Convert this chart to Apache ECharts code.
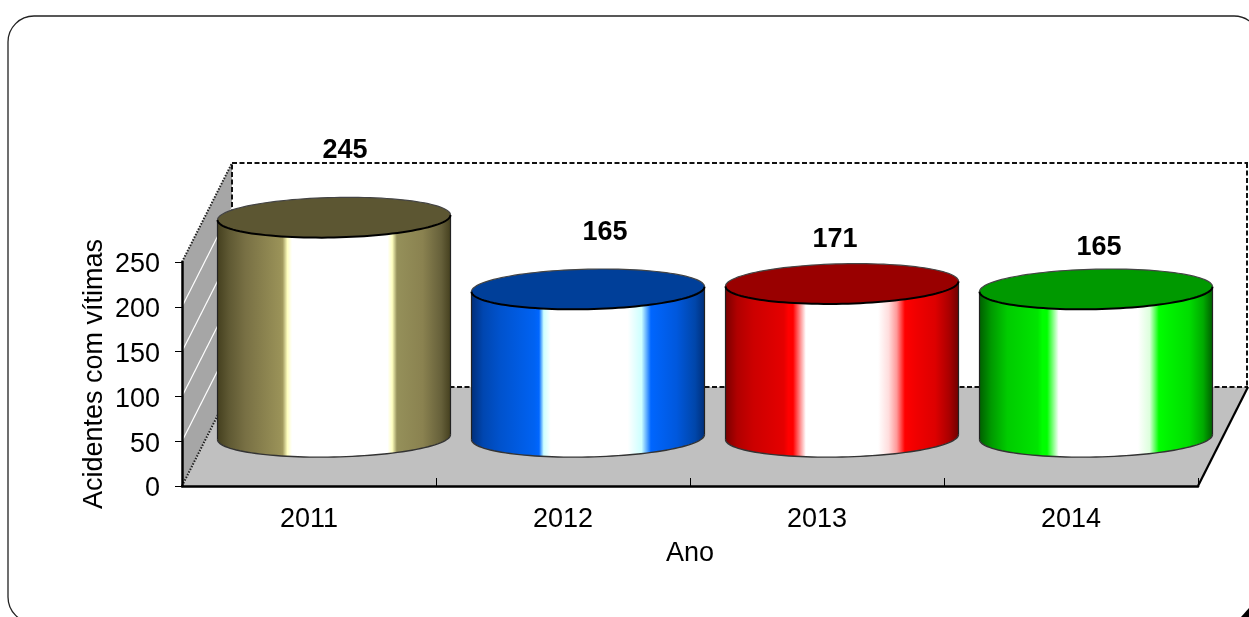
<!DOCTYPE html>
<html>
<head>
<meta charset="utf-8">
<style>html,body{margin:0;padding:0;background:#fff}#c{width:1249px;height:617px}</style>
<script src="https://cdn.jsdelivr.net/npm/echarts@6/dist/echarts.min.js"></script>
</head>
<body>
<div id="c"></div>
<script>
var categories = ['2011', '2012', '2013', '2014'];
var accidents = [245, 165, 171, 165];
var xTitle = 'Ano';
var yTitle = 'Acidentes com vítimas';
var yTicks = [50, 100, 150, 200, 250];

// styling only
var labelNudge = [[11, -47], [17, -37], [-7, -24], [3, -22]];
var topColors = ['#5c5632', '#003f99', '#990000', '#009900'];
var sideStops = [
  [[0,'#45401f'],[0.05,'#5f5933'],[0.12,'#787044'],[0.27,'#9a9258'],[0.28,'#a29a5e'],[0.30,'#ffffc0'],[0.32,'#ffffff'],[0.73,'#ffffff'],[0.75,'#ffffc0'],[0.77,'#95905a'],[0.88,'#8a8250'],[0.96,'#66603a'],[1,'#45401f']],
  [[0,'#002f7a'],[0.05,'#0046b0'],[0.12,'#0052cc'],[0.27,'#0062f2'],[0.29,'#0066ff'],[0.31,'#ccffff'],[0.34,'#ffffff'],[0.67,'#ffffff'],[0.73,'#ccffff'],[0.77,'#0066ff'],[0.88,'#0058dd'],[0.96,'#0046aa'],[1,'#002f7a']],
  [[0,'#7a0000'],[0.05,'#b00000'],[0.12,'#cc0000'],[0.25,'#e50000'],[0.27,'#ff0000'],[0.29,'#ff0000'],[0.345,'#ffffff'],[0.655,'#ffffff'],[0.70,'#ffdddd'],[0.735,'#ff9999'],[0.77,'#ff0000'],[0.82,'#f00000'],[0.90,'#dd0000'],[0.96,'#aa0000'],[1,'#700000']],
  [[0,'#006000'],[0.05,'#009900'],[0.12,'#00cc00'],[0.25,'#00e500'],[0.27,'#00ff00'],[0.29,'#00ff00'],[0.34,'#ffffff'],[0.68,'#ffffff'],[0.73,'#ddffdd'],[0.77,'#00ff00'],[0.82,'#00f000'],[0.90,'#00dd00'],[0.96,'#00aa00'],[1,'#006000']]
];
var FONT = '"Liberation Sans", Arial, sans-serif';
var DEPTH_X = 50, DEPTH_Y = -99;         // oblique projection of the box depth
var CYL_DX = 25, CYL_DY = -49, CYL_RX = 116.5, CYL_RY = 20, TILT = 2.5;

function arc(cx, cy, from, to) {
  var pts = [], n = 60;
  for (var i = 0; i <= n; i++) {
    var t = from + (to - from) * i / n;
    pts.push([cx + CYL_RX * Math.cos(t), cy + CYL_RY * Math.sin(t) - TILT * Math.cos(t)]);
  }
  return pts;
}

function renderBox(params, api) {
  var cs = params.coordSys;
  var L = cs.x, R = cs.x + cs.width, B = cs.y + cs.height, T = cs.y;
  var dx = DEPTH_X, dy = DEPTH_Y;
  var dash = {stroke:'#111', lineWidth:2, lineDash:[5,2.5]};
  var dots = {stroke:'#222', lineWidth:2, lineDash:[1.5,1.5]};
  var kids = [];
  kids.push({type:'polygon', shape:{points:[[L,B],[L,T],[L+dx,T+dy],[L+dx,B+dy]]}, style:{fill:'#a6a6a6', stroke:null}});
  kids.push({type:'polygon', shape:{points:[[L,B],[R,B],[R+dx,B+dy],[L+dx,B+dy]]}, style:{fill:'#c0c0c0', stroke:null}});
  yTicks.forEach(function (v) {
    if (v === 250) return;
    var y = api.coord([0, v])[1];
    kids.push({type:'line', shape:{x1:L, y1:y, x2:L+dx, y2:y+dy}, style:{stroke:'#ffffff', lineWidth:1.2}});
  });
  kids.push({type:'line', shape:{x1:L, y1:T, x2:L+dx, y2:T+dy}, style:dots});
  kids.push({type:'line', shape:{x1:L, y1:B, x2:L+dx, y2:B+dy}, style:dots});
  kids.push({type:'line', shape:{x1:L+dx, y1:B+dy, x2:L+dx, y2:T+dy}, style:dash});
  kids.push({type:'line', shape:{x1:L+dx, y1:T+dy, x2:R+dx, y2:T+dy}, style:dash});
  kids.push({type:'line', shape:{x1:R+dx-1, y1:T+dy, x2:R+dx-1, y2:B+dy}, style:dash});
  kids.push({type:'line', shape:{x1:L+dx, y1:B+dy, x2:R+dx, y2:B+dy}, style:dash});
  kids.push({type:'line', shape:{x1:R, y1:B, x2:R+dx, y2:B+dy}, style:{stroke:'#000', lineWidth:2.2}});
  return {type:'group', children:kids};
}

function renderCyl(params, api) {
  var i = params.dataIndex;
  var v = api.value(1);
  var base = api.coord([api.value(0), 0]);
  var top = api.coord([api.value(0), v]);
  var cx = base[0] + CYL_DX, by = base[1] + CYL_DY, ty = top[1] + CYL_DY;
  var side = [].concat(arc(cx, by, Math.PI, 0)).concat(arc(cx, ty, 0, Math.PI));
  var grad = {type:'linear', x:0, y:0, x2:1, y2:0, colorStops: sideStops[i].map(function (s) { return {offset:s[0], color:s[1]}; })};
  var left = arc(cx, by, Math.PI, Math.PI)[0], right = arc(cx, by, 0, 0)[0];
  var tl = arc(cx, ty, Math.PI, Math.PI)[0], tr = arc(cx, ty, 0, 0)[0];
  return {type:'group', children:[
    {type:'polygon', shape:{points:side}, style:{fill:grad, stroke:null}},
    {type:'polyline', shape:{points:arc(cx, by, Math.PI, 0)}, style:{fill:'none', stroke:'#333', lineWidth:1.4}},
    {type:'line', shape:{x1:left[0], y1:left[1], x2:tl[0], y2:tl[1]}, style:{stroke:'#222', lineWidth:1.2}},
    {type:'line', shape:{x1:right[0], y1:right[1], x2:tr[0], y2:tr[1]}, style:{stroke:'#222', lineWidth:1.2}},
    {type:'polygon', shape:{points:arc(cx, ty, 0, 2 * Math.PI)}, style:{fill:topColors[i], stroke:null}},
    {type:'polyline', shape:{points:arc(cx, ty, Math.PI, 2 * Math.PI)}, style:{fill:'none', stroke:'#444', lineWidth:1.2}},
    {type:'polyline', shape:{points:arc(cx, ty, Math.PI, 0)}, style:{fill:'none', stroke:'#000', lineWidth:2}},
    {type:'text', x:cx + labelNudge[i][0], y:ty - CYL_RY + labelNudge[i][1], style:{text:String(accidents[i]), font:'bold 27px ' + FONT, fill:'#000', align:'center', verticalAlign:'middle'}}
  ]};
}

var chart = echarts.init(document.getElementById('c'), null, {renderer:'canvas', width:1249, height:617});
chart.setOption({
  animation:false,
  backgroundColor:'#fff',
  graphic:[
    {type:'rect', z:-10, silent:true, shape:{x:8, y:16, width:1252, height:607, r:26}, style:{fill:'#fff', stroke:'#222', lineWidth:1.3}},
    {type:'polygon', z:-9, silent:true, shape:{points:[[1249,608],[1249,617],[1241,617]]}, style:{fill:'#000'}}
  ],
  grid:{left:182, width:1016, top:262, height:224, containLabel:false},
  xAxis:{
    type:'category', data:categories, boundaryGap:true, z:10,
    name:xTitle, nameLocation:'middle', nameGap:54, nameMoveOverlap:false,
    nameTextStyle:{fontFamily:FONT, fontSize:27, color:'#000'},
    axisLine:{lineStyle:{color:'#000', width:2.5}},
    axisTick:{show:true, inside:true, length:8, lineStyle:{color:'#000', width:1}},
    axisLabel:{fontFamily:FONT, fontSize:27, color:'#000', margin:20}
  },
  yAxis:{
    type:'value', min:0, max:250, interval:50, z:10,
    name:yTitle, nameLocation:'middle', nameGap:74, nameRotate:90, nameMoveOverlap:false,
    nameTextStyle:{fontFamily:FONT, fontSize:27, color:'#000'},
    axisLine:{show:true, lineStyle:{color:'#000', width:2.5}},
    axisTick:{show:true, length:7, lineStyle:{color:'#000', width:1}},
    splitLine:{show:false},
    axisLabel:{fontFamily:FONT, fontSize:27, color:'#000', margin:22, verticalAlign:'top', lineHeight:6}
  },
  series:[
    {type:'custom', z:1, silent:true, renderItem:renderBox, data:[[0,0]], clip:false},
    {type:'custom', z:3, silent:true, renderItem:renderCyl, clip:false,
      data:accidents.map(function (v, i) { return [i, v]; }), encode:{x:0, y:1}}
  ]
});
</script>
</body>
</html>
